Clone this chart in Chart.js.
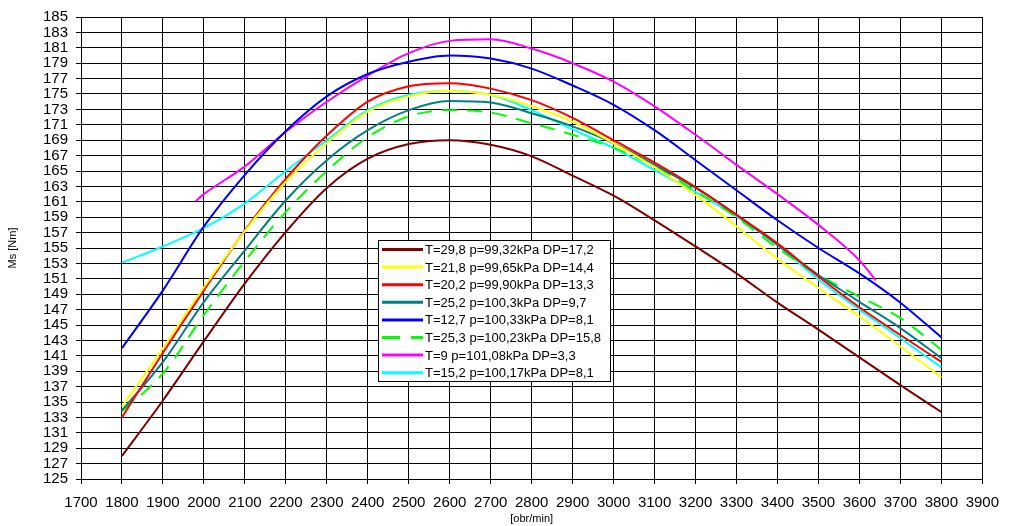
<!DOCTYPE html>
<html>
<head>
<meta charset="utf-8">
<script src="https://cdn.jsdelivr.net/npm/chart.js@4"></script>
<style>
  html, body { margin: 0; padding: 0; background: #fff; }
  #wrap { width: 1009px; height: 526px; }
</style>
</head>
<body>
<div id="wrap"><canvas id="Chart" width="1009" height="526"></canvas></div>
<script>
// rpm points
const rpm = [1800, 1900, 2000, 2100, 2200, 2300, 2400, 2500, 2600, 2700, 2800,
             2900, 3000, 3100, 3200, 3300, 3400, 3500, 3600, 3700, 3800];
const rpmMagenta = [1980, 2000, 2100, 2200, 2300, 2400, 2500, 2600, 2700, 2800,
                    2900, 3000, 3100, 3200, 3300, 3400, 3500, 3600, 3640];

const labels = [
  "T=29,8 p=99,32kPa DP=17,2",
  "T=21,8 p=99,65kPa DP=14,4",
  "T=20,2 p=99,90kPa DP=13,3",
  "T=25,2 p=100,3kPa DP=9,7",
  "T=12,7 p=100,33kPa DP=8,1",
  "T=25,3 p=100,23kPa DP=15,8",
  "T=9 p=101,08kPa DP=3,3",
  "T=15,2 p=100,17kPa DP=8,1"
];

const msDarkRed = [128.0, 135.2, 142.9, 150.4, 157.1, 162.8, 166.6, 168.5, 169.0, 168.4, 166.9,
                   164.4, 161.8, 158.6, 155.2, 151.7, 147.9, 144.4, 140.8, 137.2, 133.7];
const msYellow  = [134.4, 142.0, 149.9, 157.2, 163.6, 168.6, 172.7, 174.7, 175.4, 174.9, 173.4,
                   171.4, 168.6, 165.5, 161.9, 157.8, 153.6, 149.8, 146.1, 142.2, 138.2];
const msRed     = [133.0, 141.4, 149.5, 157.3, 164.0, 169.6, 174.0, 176.0, 176.4, 175.7, 174.2,
                   171.9, 169.0, 166.1, 162.9, 159.3, 155.6, 151.3, 147.3, 143.7, 140.2];
const msTeal    = [133.9, 140.2, 148.0, 154.7, 161.2, 166.4, 170.3, 172.9, 174.1, 173.9, 172.5,
                   170.8, 168.6, 165.8, 162.8, 159.3, 155.4, 151.5, 148.0, 144.6, 140.7];
const msBlue    = [142.0, 149.5, 157.8, 164.5, 170.2, 174.7, 177.6, 179.2, 180.0, 179.6, 178.3,
                   176.1, 173.6, 170.3, 166.4, 162.5, 158.6, 155.0, 151.7, 147.9, 143.4];
const msGreen   = [133.8, 138.7, 146.3, 153.3, 159.7, 165.0, 169.4, 172.1, 172.9, 172.6, 171.2,
                   169.7, 168.0, 165.6, 162.4, 159.0, 155.0, 151.5, 148.7, 145.9, 141.8];
const msMagenta = [161.1, 162.0, 165.6, 170.1, 174.0, 177.4, 180.3, 181.9, 182.1, 180.9,
                   179.0, 176.6, 173.4, 169.7, 165.8, 162.0, 158.0, 153.4, 150.8];
const msCyan    = [153.1, 155.2, 157.6, 160.8, 165.0, 169.0, 172.9, 174.9, 175.4, 174.9, 172.9,
                   170.4, 168.0, 165.1, 162.3, 159.1, 155.4, 150.9, 147.0, 143.3, 139.5];

const toPoints = (xs, ys) => xs.map((x, i) => ({ x: x, y: ys[i] }));

function series(label, color, xs, ys, dash) {
  return {
    label: label,
    data: toPoints(xs, ys),
    borderColor: color,
    backgroundColor: color,
    borderWidth: 2,
    borderDash: dash || [],
    pointRadius: 0,
    cubicInterpolationMode: "monotone",
    fill: false
  };
}

const data = {
  datasets: [
    series(labels[0], "#800000", rpm, msDarkRed),
    series(labels[1], "#FFFF00", rpm, msYellow),
    series(labels[2], "#FF0000", rpm, msRed),
    series(labels[3], "#008080", rpm, msTeal),
    series(labels[4], "#0000FF", rpm, msBlue),
    series(labels[5], "#00FF00", rpm, msGreen, [15, 10]),
    series(labels[6], "#FF00FF", rpmMagenta, msMagenta),
    series(labels[7], "#00FFFF", rpm, msCyan)
  ]
};

// legend box drawn inside the plot area
const boxLegend = {
  id: "boxLegend",
  afterDraw(chart) {
    const ctx = chart.ctx;
    const a = chart.chartArea;
    const x0 = a.left + 297, y0 = a.top + 223, w = 232, h = 141, row = 17.6;
    ctx.save();
    ctx.fillStyle = "#fff";
    ctx.fillRect(x0, y0, w, h);
    ctx.strokeStyle = "#000";
    ctx.lineWidth = 1;
    ctx.strokeRect(x0 + 0.5, y0 + 0.5, w, h);
    ctx.font = "13px 'Liberation Sans', Arial, sans-serif";
    ctx.textBaseline = "middle";
    chart.data.datasets.forEach((ds, i) => {
      const y = y0 + 9.5 + i * row;
      ctx.beginPath();
      ctx.strokeStyle = ds.borderColor;
      ctx.lineWidth = 3;
      ctx.setLineDash(ds.borderDash.length ? [18, 11] : []);
      ctx.moveTo(x0 + 4, y);
      ctx.lineTo(x0 + 45, y);
      ctx.stroke();
      ctx.setLineDash([]);
      ctx.fillStyle = "#000";
      ctx.fillText(ds.label, x0 + 47, y + 1);
    });
    ctx.restore();
  }
};

const tickFont = { family: "'Liberation Sans', Arial, sans-serif", size: 15 };

const config = {
  type: "line",
  data: data,
  options: {
    responsive: false,
    animation: false,
    layout: { padding: { top: 17, right: 17, left: 0, bottom: 0 } },
    plugins: { legend: { display: false }, tooltip: { enabled: false } },
    scales: {
      x: {
        type: "linear",
        min: 1700,
        max: 3900,
        afterFit: (s) => { s.height = 47; },
        ticks: {
          stepSize: 100,
          autoSkip: false,
          maxRotation: 0,
          color: "#000",
          padding: 10,
          font: tickFont,
          callback: (v) => String(v)
        },
        grid: { color: "#000", lineWidth: 1, tickLength: 5, tickColor: "#000" },
        border: { color: "#000" },
        title: {
          display: true,
          text: "[obr/min]",
          color: "#000",
          padding: { top: 0, bottom: 0 },
          font: { family: "'Liberation Sans', Arial, sans-serif", size: 11 }
        }
      },
      y: {
        min: 125,
        max: 185,
        afterFit: (s) => { s.width = 81; },
        ticks: {
          stepSize: 2,
          autoSkip: false,
          color: "#000",
          padding: 8,
          font: tickFont,
          callback: (v) => String(v)
        },
        grid: { color: "#000", lineWidth: 1, tickLength: 5, tickColor: "#000" },
        border: { color: "#000" },
        title: {
          display: true,
          text: "Ms [Nm]",
          color: "#000",
          padding: { top: 6, bottom: 0 },
          font: { family: "'Liberation Sans', Arial, sans-serif", size: 11 }
        }
      }
    }
  },
  plugins: [boxLegend]
};

const myChart = new Chart(document.getElementById("Chart"), config);
</script>
</body>
</html>
